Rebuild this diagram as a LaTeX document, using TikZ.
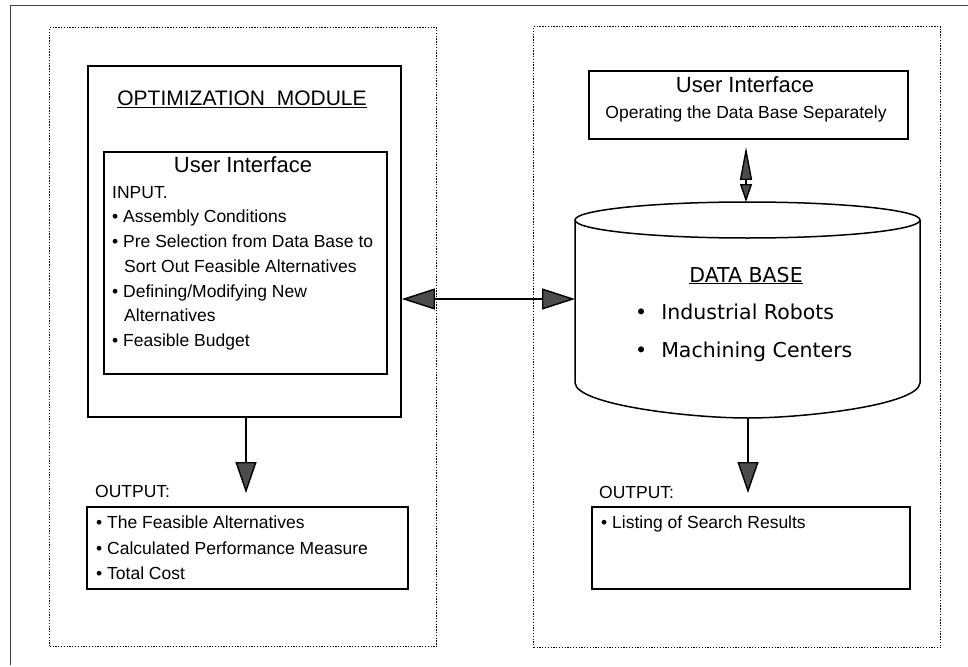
\documentclass[tikz,border=0pt]{standalone}
\usepackage{fontspec}
\setmainfont{Liberation Sans}
\newfontfamily\dvfont{DejaVu Sans}
\usetikzlibrary{arrows.meta}
\newcommand\fsz[1]{\fontsize{#1}{#1}\selectfont}
\begin{document}
\begin{tikzpicture}[x=1pt,y=-1pt,
  dotbox/.style={draw, line width=1.4pt, dash pattern=on 1.3pt off 1.5pt, inner sep=0pt, anchor=north west},
  solidbox/.style={draw, line width=1.9pt, inner sep=0pt, anchor=north west},
  txt/.style={inner sep=0pt, anchor=base west, font=\fsz{17.5}},
  ctxt/.style={inner sep=0pt, anchor=base},
  bigarrow/.style={line width=1.4pt, -{Triangle[length=31pt,width=21pt,fill=black!70]}},
  dblarrow/.style={line width=1.4pt, {Triangle[length=33pt,width=21pt,fill=black!70]}-{Triangle[length=33pt,width=21pt,fill=black!70]}},
  thinarrow/.style={line width=1.4pt, {Triangle[length=33pt,width=12pt,fill=black!70]}-{Triangle[length=18pt,width=12pt,fill=black!70]}}
]
\useasboundingbox (0,0) rectangle (968,666);
\fill[white] (0,0) rectangle (968,666);
% outer frame remnants
\draw[line width=1pt, black!75] (10,665) -- (10,6) -- (968,6);

% dotted containers
\node[dotbox, minimum width=387pt, minimum height=619pt] (dl) at (49,27) {};
\node[dotbox, minimum width=407pt, minimum height=621pt] (dr) at (533,26) {};

% optimization module
\node[solidbox, minimum width=313pt, minimum height=351pt] (opt) at (87,65) {};
\node[ctxt, font=\fsz{21}] (title) at (242,106) {\underline{OPTIMIZATION\ \ MODULE}};
\node[solidbox, minimum width=283pt, minimum height=222pt] (ui1) at (103,151) {};
\node[ctxt, font=\fsz{22}] (ui1h) at (243,172) {User Interface};
\node[txt] (in0) at (112,198) {INPUT.};
\node[txt] (in1) at (112,222.7) {• Assembly Conditions};
\node[txt] (in2) at (112,247) {• Pre Selection from Data Base to};
\node[txt] (in3) at (124,272) {Sort Out Feasible Alternatives};
\node[txt] (in4) at (112,297) {• Defining/Modifying New};
\node[txt] (in5) at (124,321) {Alternatives};
\node[txt] (in6) at (112,346) {• Feasible Budget};

% left output
\node[txt] (outlh) at (95,497) {OUTPUT:};
\node[solidbox, minimum width=321pt, minimum height=82pt] (outl) at (86,506) {};
\node[txt] (o1) at (96,528) {• The Feasible Alternatives};
\node[txt] (o2) at (96,554) {• Calculated Performance Measure};
\node[txt] (o3) at (96,579) {• Total Cost};

% right user interface
\node[solidbox, minimum width=319pt, minimum height=68pt] (ui2) at (588,70) {};
\node[ctxt, font=\fsz{22}] (ui2h) at (745,93) {User Interface};
\node[ctxt, font=\fsz{17.5}] (ui2t) at (746,118) {Operating the Data Base Separately};

% data base cylinder
\node[inner sep=0pt, minimum width=345pt, minimum height=216pt, anchor=north west] (db) at (575,202) {};
\draw[line width=1.5pt] (575,220) -- (575,383) .. controls (577,405) and (690,418) .. (747.5,418)
  .. controls (805,418) and (918,405) .. (920,383) -- (920,220);
\draw[line width=1.5pt, fill=white] (747.5,220) ellipse [x radius=172.5, y radius=18];
\node[ctxt, font=\dvfont\fsz{20.5}] (dbh) at (746,282) {\underline{DATA BASE}};
\node[txt, font=\dvfont\fsz{20.5}] (db1) at (635,319) {•\hspace{14pt}Industrial Robots};
\node[txt, font=\dvfont\fsz{20.5}] (db2) at (635,357) {•\hspace{14pt}Machining Centers};

% right output
\node[txt] (outrh) at (599,498) {OUTPUT:};
\node[solidbox, minimum width=318pt, minimum height=82pt] (outr) at (591,506) {};
\node[txt] (r1) at (601,528) {• Listing of Search Results};

% connectors
\coordinate (hy) at (0,299);
\draw[dblarrow] (opt.east |- hy) -- (db.west |- hy);
\coordinate (vx) at (746,0);
\draw[thinarrow, shorten <=7pt] (ui2.south -| vx) -- (db.north -| vx);
\coordinate (dlx) at (246,0);
\draw[bigarrow, shorten >=13pt] (opt.south -| dlx) -- (outl.north -| dlx);
\coordinate (drx) at (748,0);
\draw[bigarrow, shorten >=13pt] (db.south -| drx) -- (outr.north -| drx);
\end{tikzpicture}
\end{document}
